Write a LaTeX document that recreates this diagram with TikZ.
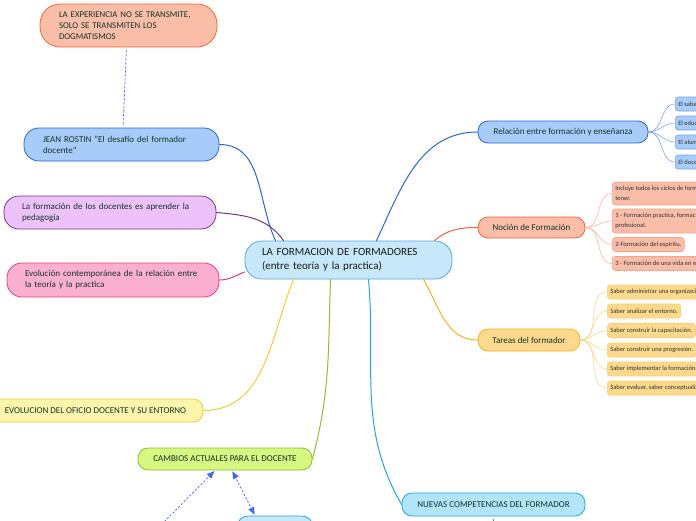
\documentclass[tikz,border=0pt]{standalone}
\usepackage{fontspec}
\setmainfont{Carlito}
\usetikzlibrary{arrows}
\definecolor{ttqqcc}{rgb}{0.08,0.20,0.16}
\definecolor{ccefff}{rgb}{0.78,0.91,0.98}
\definecolor{qqaadd}{rgb}{0.35,0.66,0.85}
\definecolor{ffbbaa}{rgb}{0.98,0.74,0.66}
\definecolor{ff6633}{rgb}{0.94,0.40,0.23}
\definecolor{aaccff}{rgb}{0.66,0.80,0.98}
\definecolor{qq66dd}{rgb}{0.16,0.40,0.83}
\definecolor{eeccff}{rgb}{0.93,0.76,0.98}
\definecolor{773388}{rgb}{0.45,0.22,0.53}
\definecolor{ffaadd}{rgb}{0.99,0.69,0.82}
\definecolor{ee3388}{rgb}{0.93,0.22,0.50}
\definecolor{ffffaa}{rgb}{0.99,0.96,0.67}
\definecolor{eedd33}{rgb}{0.91,0.82,0.20}
\definecolor{ddff88}{rgb}{0.84,0.97,0.51}
\definecolor{99cc33}{rgb}{0.56,0.75,0.18}
\definecolor{bbeeff}{rgb}{0.70,0.90,0.98}
\definecolor{qqaaee}{rgb}{0.13,0.65,0.89}
\definecolor{ffdd88}{rgb}{0.99,0.85,0.55}
\definecolor{ffbb22}{rgb}{0.96,0.71,0.14}
\definecolor{4466ee}{rgb}{0.27,0.40,0.93}
\definecolor{333333}{rgb}{0.20,0.20,0.20}

\begin{document}
\begin{tikzpicture}[x=1pt,y=-1pt,line cap=round,line join=round,>=triangle 45,
pill/.style={rounded corners=10pt,line width=0.8pt,text=ttqqcc,inner xsep=0pt,inner ysep=0pt,align=center,font=\fontsize{9}{11}\selectfont},
leaf/.style={anchor=west,rounded corners=3pt,line width=0.6pt,text=333333,inner xsep=3pt,inner ysep=0pt,minimum height=14pt,align=left,font=\fontsize{6.5}{9.5}\selectfont},
limb/.style={line width=1pt},
twig/.style={line width=0.5pt},
dashlink/.style={color=4466ee,line width=0.7pt,dash pattern=on 2pt off 2pt}]
\useasboundingbox (0,0) rectangle (696,520);
\clip (0,0) rectangle (696,520);

\node[pill,fill=ccefff,draw=qqaadd,rounded corners=17pt,minimum width=207pt,minimum height=38pt,text width=173pt,align=left,text=black!90,font=\fontsize{11}{14}\selectfont] (centre) at (348.5,260) {LA FORMACION DE FORMADORES\\(entre teoría y la practica)};

\node[pill,fill=ffbbaa,draw=ff6633,rounded corners=20pt,minimum width=177pt,minimum height=43pt,text width=139pt,align=left,font=\fontsize{8.8}{11}\selectfont] (exper) at (128.5,25.5) {LA EXPERIENCIA NO SE TRANSMITE,\\SOLO SE TRANSMITEN LOS\\DOGMATISMOS};
\node[pill,fill=aaccff,draw=qq66dd,rounded corners=15pt,minimum width=195pt,minimum height=33pt,text width=157pt,align=left] (rostin) at (121.5,144.5) {JEAN ROSTIN "El desafío del formador\\docente"};
\node[pill,fill=eeccff,draw=773388,rounded corners=15pt,minimum width=212pt,minimum height=33pt,text width=176pt,align=left] (pedag) at (110,212.5) {La formación de los docentes es aprender la\\pedagogía};
\node[pill,fill=ffaadd,draw=ee3388,rounded corners=15pt,minimum width=212pt,minimum height=34pt,text width=176pt,align=left] (evolu) at (113,280) {Evolución contemporánea de la relación entre\\la teoría y la practica};
\node[pill,fill=ffffaa,draw=eedd33,minimum width=215pt,minimum height=23pt] (oficio) at (95.5,410.5) {EVOLUCION DEL OFICIO DOCENTE Y SU ENTORNO};
\node[pill,fill=ddff88,draw=99cc33,minimum width=174pt,minimum height=22pt] (cambios) at (225,459) {CAMBIOS ACTUALES PARA EL DOCENTE};
\node[pill,fill=bbeeff,draw=qqaaee,minimum width=183pt,minimum height=23pt] (nuevas) at (493.5,504.5) {NUEVAS COMPETENCIAS DEL FORMADOR};
\node[pill,fill=ccefff,draw=qqaaee,rounded corners=11pt,minimum width=76pt,minimum height=26pt] (abajo) at (275,529) {};
\coordinate (izq) at (158,528);
\coordinate (fondo) at (493,540);

\node[pill,fill=aaccff,draw=qq66dd,minimum width=170pt,minimum height=22pt] (relacion) at (563,132) {Relación entre formación y enseñanza};
\node[pill,fill=ffbbaa,draw=ff6633,minimum width=107pt,minimum height=21pt] (nocion) at (531.5,227.5) {Noción de Formación};
\node[pill,fill=ffdd88,draw=ffbb22,minimum width=102pt,minimum height=22pt] (tareas) at (529,340) {Tareas del formador};

\node[leaf,fill=aaccff,draw=aaccff!60!qq66dd] (r1) at (675,104) {El saber};
\node[leaf,fill=aaccff,draw=aaccff!60!qq66dd] (r2) at (675,123) {El educador};
\node[leaf,fill=aaccff,draw=aaccff!60!qq66dd] (r3) at (675,142) {El alumno};
\node[leaf,fill=aaccff,draw=aaccff!60!qq66dd] (r4) at (675,162) {El docente};

\node[leaf,fill=ffbbaa,draw=ffbbaa!70!ff6633,minimum height=23pt] (n1) at (612,193.5) {Incluye todos los ciclos de formación que una persona pueda\\tener.};
\node[leaf,fill=ffbbaa,draw=ffbbaa!70!ff6633,minimum height=24pt] (n2) at (612,221) {1 - Formación practica, formación técnica y\\profesional.};
\node[leaf,fill=ffbbaa,draw=ffbbaa!70!ff6633] (n3) at (612,244.5) {2-Formación del espíritu.};
\node[leaf,fill=ffbbaa,draw=ffbbaa!70!ff6633] (n4) at (612,263.5) {3 - Formación de una vida en equipo.};

\node[leaf,fill=ffdd88,draw=ffdd88!70!ffbb22] (t1) at (607,292) {Saber administrar una organización.};
\node[leaf,fill=ffdd88,draw=ffdd88!70!ffbb22] (t2) at (607,311) {Saber analizar el entorno.};
\node[leaf,fill=ffdd88,draw=ffdd88!70!ffbb22] (t3) at (607,330.5) {Saber construir la capacitación.};
\node[leaf,fill=ffdd88,draw=ffdd88!70!ffbb22] (t4) at (607,350) {Saber construir una progresión.};
\node[leaf,fill=ffdd88,draw=ffdd88!70!ffbb22] (t5) at (607,369) {Saber implementar la formación.};
\node[leaf,fill=ffdd88,draw=ffdd88!70!ffbb22] (t6) at (607,388) {Saber evaluar, saber conceptualizar.};

\draw[limb,color=qq66dd] (rostin.east) to[out=0,in=115] ([xshift=-73pt]centre.north);
\draw[limb,color=773388] (pedag.east) to[out=-5,in=125] ([xshift=-65pt]centre.north);
\draw[limb,color=ee3388] (evolu.east) to[out=0,in=200] ([yshift=-12pt]centre.west);
\draw[limb,color=eedd33] (oficio.east) to[out=0,in=-112] ([xshift=-55pt]centre.south);
\draw[limb,color=99cc33] (cambios.east) to[out=75,in=-92] ([xshift=-18pt]centre.south);
\draw[limb,color=qqaaee] (nuevas.west) to[out=120,in=-85] ([xshift=20pt]centre.south);
\draw[limb,color=qq66dd] ([xshift=28pt]centre.north) to[out=65,in=180] (relacion.west);
\draw[limb,color=ff6633] ([xshift=86pt]centre.north) to[out=40,in=180] (nocion.west);
\draw[limb,color=ffbb22] ([xshift=75pt]centre.south) to[out=-60,in=180] (tareas.west);

\foreach \k in {r1,r2,r3,r4}
\draw[twig,color=aaccff!50!qq66dd] (relacion.east) to[out=0,in=180] (\k.west);
\foreach \k in {n1,n2,n3,n4}
\draw[twig,color=ffbbaa!80!ff6633] (nocion.east) to[out=0,in=180] (\k.west);
\foreach \k in {t1,t2,t3,t4,t5,t6}
\draw[twig,color=ffdd88!80!ffbb22] (tareas.east) to[out=0,in=180] (\k.west);

\draw[dashlink,shorten <=3pt,shorten >=3pt] ([xshift=-2pt]exper.south) -- ([xshift=1.5pt]rostin.north);
\draw[dashlink,<-,shorten <=1pt] ([xshift=-10pt]cambios.south) -- (izq);
\draw[dashlink,<->,shorten <=1pt,shorten >=1pt] ([xshift=7pt]cambios.south) -- ([xshift=-20pt]abajo.north);
\draw[dashlink,shorten <=3pt] (nuevas.south) -- (fondo);
\end{tikzpicture}
\end{document}
